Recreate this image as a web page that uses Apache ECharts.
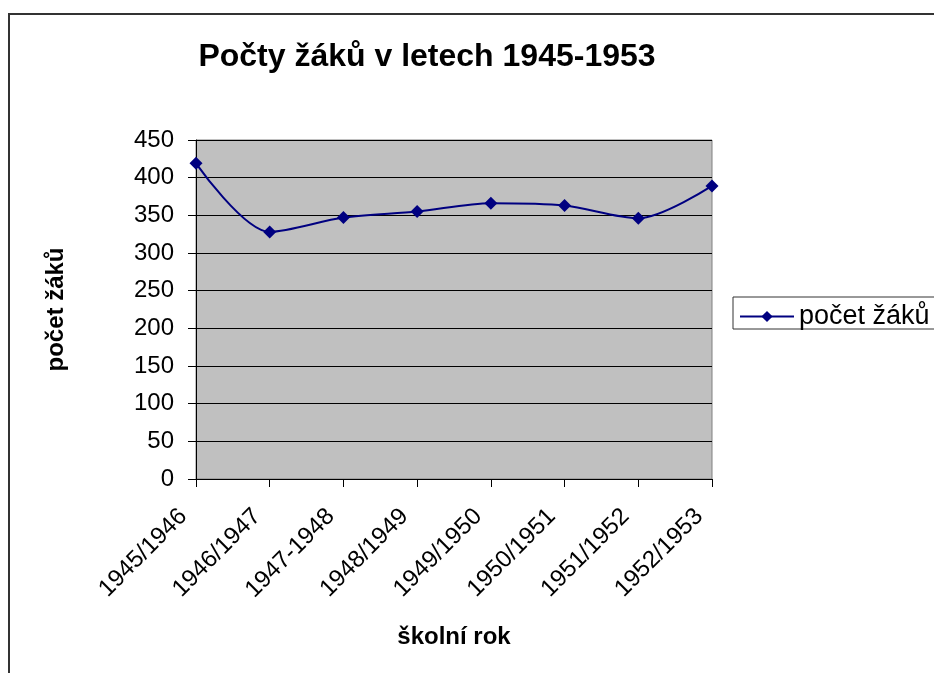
<!DOCTYPE html>
<html><head><meta charset="utf-8">
<script src="https://cdn.jsdelivr.net/npm/echarts@6/dist/echarts.min.js"></script>
<style>html,body{margin:0;padding:0;background:#fff}#c{width:934px;height:673px}</style>
</head><body><div id="c"></div>
<script>
const categories = ['1945/1946','1946/1947','1947-1948','1948/1949','1949/1950','1950/1951','1951/1952','1952/1953'];
const pocetZaku = [419, 328, 347, 355, 366, 363, 346, 389];
const seriesName = 'počet žáků';
const chartTitle = 'Počty žáků v letech 1945-1953';
const xName = 'školní rok';
const yName = 'počet žáků';

const F = 'Liberation Sans, Arial, sans-serif';
const chart = echarts.init(document.getElementById('c'));
chart.setOption({
  animation: false,
  backgroundColor: '#fff',
  title: { text: chartTitle, left: 422, top: 36, textAlign: 'center',
    textStyle: { fontFamily: F, fontSize: 32, fontWeight: 'bold', color: '#000' } },
  graphic: [
    { type: 'rect', shape: { x: 9, y: 14, width: 1000, height: 1000 }, style: { fill: 'none', stroke: '#333', lineWidth: 2 }, z: 100 },
    { type: 'rect', shape: { x: 733, y: 297, width: 300, height: 32 }, style: { fill: '#fff', stroke: '#333', lineWidth: 1 }, z: 1 }
  ],
  legend: { left: 734, top: 298, itemWidth: 54, itemHeight: 14, itemGap: 0, z: 5,
    textStyle: { fontFamily: F, fontSize: 27, color: '#000' },
    data: [{ name: seriesName }] },
  grid: { left: 196, top: 140, width: 516, height: 339, show: true, backgroundColor: '#c0c0c0', borderColor: '#808080', borderWidth: 1 },
  xAxis: { type: 'category', data: categories, boundaryGap: false,
    name: xName, nameLocation: 'middle', nameGap: 146,
    nameTextStyle: { fontFamily: F, fontSize: 24, fontWeight: 'bold', color: '#000' },
    axisLine: { lineStyle: { color: '#000', width: 1 } },
    axisTick: { show: true, length: 8, lineStyle: { color: '#000' }, alignWithLabel: true },
    axisLabel: { rotate: 45, fontFamily: F, fontSize: 24, color: '#000', margin: 21, interval: 0, padding: [0, 18, 0, 0] },
    splitLine: { show: false } },
  yAxis: { type: 'value', min: 0, max: 450, interval: 50,
    name: yName, nameLocation: 'middle', nameGap: 128, nameRotate: 90,
    nameTextStyle: { fontFamily: F, fontSize: 24, fontWeight: 'bold', color: '#000' },
    axisLine: { show: true, lineStyle: { color: '#000', width: 1 } },
    axisTick: { show: true, length: 8, lineStyle: { color: '#000' } },
    axisLabel: { fontFamily: F, fontSize: 24, color: '#000', margin: 22 },
    splitLine: { show: true, lineStyle: { color: '#000', width: 1 } } },
  series: [{ name: seriesName, type: 'line', data: pocetZaku, smooth: 0.3,
    symbol: 'diamond', symbolSize: 13,
    lineStyle: { color: '#000080', width: 2 },
    itemStyle: { color: '#000080' } }]
});
</script></body></html>
